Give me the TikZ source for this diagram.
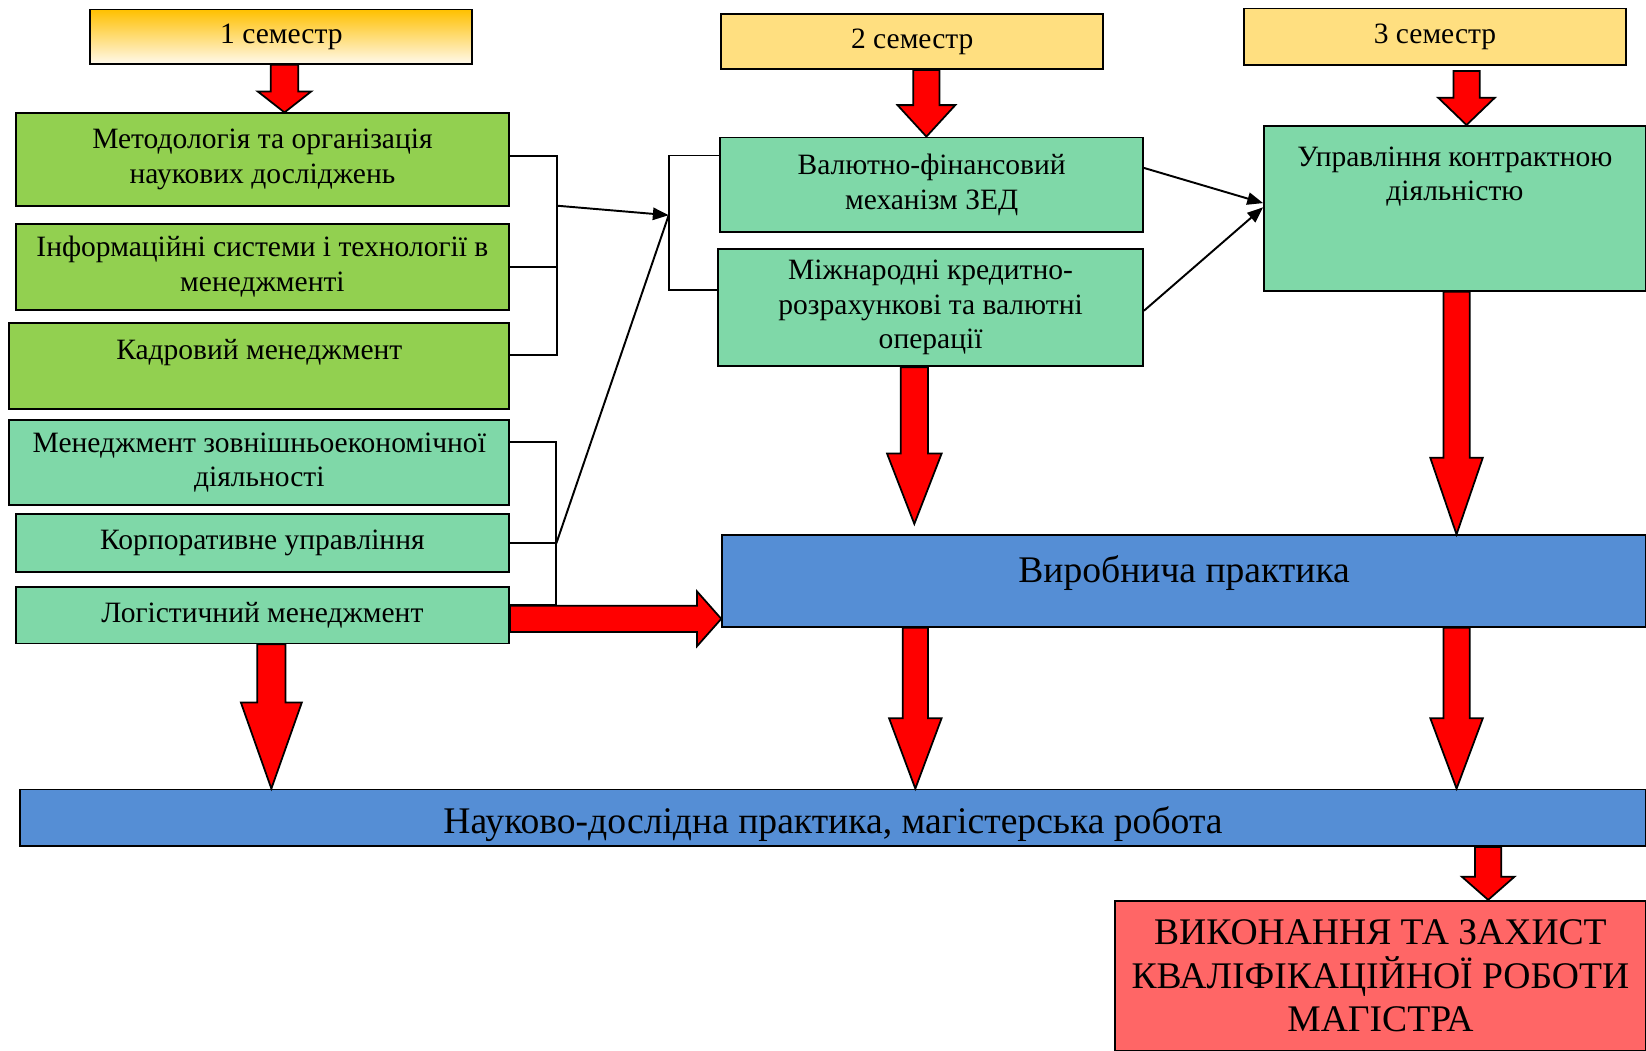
\documentclass[tikz,border=0pt]{standalone}
\usepackage{fontspec}
\setmainfont{Liberation Serif}
\usepackage{xcolor}
\usepackage{tikz}
\usetikzlibrary{arrows.meta,calc}

\definecolor{semyellow}{HTML}{FFDF80}
\definecolor{semorange}{HTML}{FFC000}
\definecolor{semmid}{HTML}{FFEDB8}
\definecolor{semlight}{HTML}{FFF9EC}
\definecolor{leafgreen}{HTML}{92D050}
\definecolor{mintgreen}{HTML}{7FD8A8}
\definecolor{boxblue}{HTML}{558ED5}
\definecolor{boxpink}{HTML}{FF6666}

\newcommand{\pxu}{0.5975pt}
\newcommand{\downblock}[5]{%
  \draw[blockarrow] let \p1=#1, \p2=#2 in
    (\x1-#3*\pxu,\y1) -- (\x1-#3*\pxu,\y2+#5*\pxu) -- (\x1-#4*\pxu,\y2+#5*\pxu)
    -- (\x1,\y2) -- (\x1+#4*\pxu,\y2+#5*\pxu) -- (\x1+#3*\pxu,\y2+#5*\pxu)
    -- (\x1+#3*\pxu,\y1) -- cycle;}
\newcommand{\rightblock}[5]{%
  \draw[blockarrow] let \p1=#1, \p2=#2 in
    (\x1,\y1+#3*\pxu) -- (\x2-#5*\pxu,\y1+#3*\pxu) -- (\x2-#5*\pxu,\y1+#4*\pxu)
    -- (\x2,\y1) -- (\x2-#5*\pxu,\y1-#4*\pxu) -- (\x2-#5*\pxu,\y1-#3*\pxu)
    -- (\x1,\y1-#3*\pxu) -- cycle;}

\begin{document}
\begin{tikzpicture}[x=0.021cm, y=0.021cm,
    box/.style={rectangle, draw, line width=1pt, align=center, inner sep=2pt, font=\fontsize{16.8}{19.7}\selectfont},
    bigbox/.style={box, font=\fontsize{21.4}{24.6}\selectfont},
    conn/.style={draw, line width=1.1pt},
    link/.style={conn, -{Triangle[length=9pt,width=7pt]}},
    blockarrow/.style={fill=red, draw=black, line width=1pt, line join=miter}]
      \useasboundingbox (0,0) rectangle (1568,-1001);
      \node (sem1) [box, top color=semorange, middle color=semmid, bottom color=semlight, minimum width=7.64cm, minimum height=1.09cm] at (268,-35) {1 семестр};
      \node (sem2) [box, fill=semyellow, minimum width=7.64cm, minimum height=1.11cm] at (869,-39.5) {2 семестр};
      \node (sem3) [box, fill=semyellow, minimum width=7.64cm, minimum height=1.13cm] at (1367,-35) {3 семестр};
      \node (method) [box, fill=leafgreen, minimum width=9.87cm, minimum height=1.85cm] at (250,-152) {Методологія та організація\\наукових досліджень};
      \node (infsys) [box, fill=leafgreen, minimum width=9.87cm, minimum height=1.72cm] at (250,-254) {Інформаційні системи і технології в\\менеджменті};
      \node (kadry) [box, fill=leafgreen, minimum width=10cm, minimum height=1.72cm] at (247,-349) {Кадровий менеджмент\\ \mbox{}};
      \node (zed) [box, fill=mintgreen, minimum width=10cm, minimum height=1.70cm] at (247,-440.5) {Менеджмент зовнішньоекономічної\\діяльності};
      \node (korp) [box, fill=mintgreen, minimum width=9.87cm, minimum height=1.155cm] at (250,-517.5) {Корпоративне управління};
      \node (logist) [box, fill=mintgreen, minimum width=9.87cm, minimum height=1.13cm] at (250,-586) {Логістичний менеджмент};
      \node (valfin) [box, fill=mintgreen, minimum width=8.46cm, minimum height=1.89cm] at (887.5,-176) {Валютно-фінансовий\\механізм ЗЕД};
      \node (mizhn) [box, fill=mintgreen, minimum width=8.5cm, minimum height=2.35cm] at (886.5,-293) {Міжнародні кредитно-\\розрахункові та валютні\\операції};
      \node (kontr) [box, fill=mintgreen, minimum width=7.64cm, minimum height=3.30cm] at (1386,-198.5) {Управління контрактною\\діяльністю\\ \mbox{}\\ \mbox{}};
      \node (vyrob) [bigbox, fill=boxblue, minimum width=18.48cm, minimum height=1.83cm, text depth=14pt] at (1128,-553.5) {Виробнича практика};
      \node (nauk) [bigbox, fill=boxblue, minimum width=32.53cm, minimum height=1.13cm, text height=22pt] at (793.5,-779) {Науково-дослідна практика, магістерська робота};
      \node (zakhyst) [bigbox, fill=boxpink, minimum width=10.63cm, minimum height=3.0cm] at (1315,-929.5) {ВИКОНАННЯ ТА ЗАХИСТ\\КВАЛІФІКАЦІЙНОЇ РОБОТИ\\МАГІСТРА};
      \coordinate (j1) at (531,-196);
      \coordinate (j2) at (637,-205);
      \coordinate (j3) at (530,-517.5);
      \draw[conn] ([yshift=3*\pxu]method.east) -| (j1) |- ([yshift=11*\pxu]kadry.east);
      \draw[conn] (infsys.east) -- (infsys.east -| j1);
      \draw[link] (j1) -- (j2);
      \draw[conn] ([yshift=-18*\pxu]valfin.north west) -| (j2) |- ([yshift=-40*\pxu]mizhn.north west);
      \draw[conn] ([yshift=-22*\pxu]zed.north east) -| (j3) |- ([yshift=-18*\pxu]logist.north east);
      \draw[conn] (korp.east) -- (j3);
      \draw[conn] (j3) -- (j2);
      \draw[link] ([yshift=16*\pxu]valfin.east) -- ([yshift=5*\pxu]kontr.west);
      \draw[link] ([yshift=-3*\pxu]mizhn.east) -- ([yshift=1*\pxu]kontr.west);
      \downblock{([xshift=3*\pxu]sem1.south)}{(method.north)}{13}{25.5}{20}
      \downblock{([xshift=13.5*\pxu]sem2.south)}{(valfin.north)}{12.5}{27.5}{30}
      \downblock{([xshift=30*\pxu,yshift=-5*\pxu]sem3.south)}{(kontr.north)}{12.5}{27}{26}
      \downblock{([xshift=-15.5*\pxu]mizhn.south)}{([yshift=10*\pxu]vyrob.north)}{13}{26}{67}
      \downblock{([xshift=1.5*\pxu]kontr.south)}{(vyrob.north)}{12.5}{25}{73}
      \downblock{([xshift=-256*\pxu]vyrob.south)}{(nauk.north)}{12}{25}{67}
      \downblock{([xshift=259.5*\pxu]vyrob.south)}{(nauk.north)}{12.5}{25}{67}
      \downblock{([xshift=8.5*\pxu]logist.south)}{(nauk.north)}{13.5}{29}{82}
      \downblock{([xshift=624*\pxu]nauk.south)}{(zakhyst.north)}{12.5}{25}{22}
      \rightblock{([yshift=-3.5*\pxu]logist.east)}{(vyrob.west)}{12.5}{26}{23}
  \end{tikzpicture}
\end{document}
